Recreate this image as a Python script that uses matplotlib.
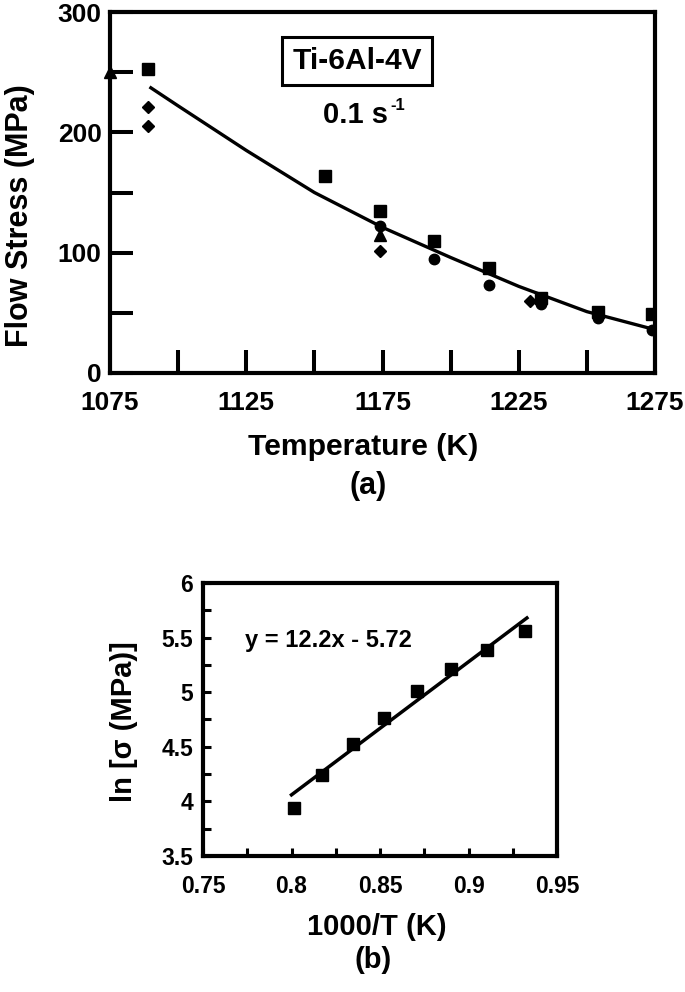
import matplotlib
matplotlib.use("Agg")
import matplotlib.pyplot as plt
from matplotlib.patches import Rectangle

plt.rcParams['font.family'] = ['Liberation Sans', 'DejaVu Sans']
plt.rcParams['font.weight'] = 'bold'

# ---- panel (a): flow stress vs temperature ----
T_sq   = [1089, 1154, 1174, 1194, 1214, 1233, 1254, 1274]
S_sq   = [253, 164, 135, 110, 87, 62, 51, 49]
T_dia  = [1089, 1089, 1174, 1229]
S_dia  = [221, 205, 101, 60]
T_cir  = [1174, 1194, 1214, 1233, 1254, 1274]
S_cir  = [122, 95, 73, 57, 46, 36]
T_tri  = [1075, 1174]
S_tri  = [250, 115]
T_fit  = [1090, 1100, 1125, 1150, 1175, 1200, 1225, 1250, 1275]
S_fit  = [237, 222, 185, 150, 121, 96, 72, 51, 36]

# ---- panel (b): ln(sigma) vs 1000/T ----
inv_T    = [0.8014, 0.8174, 0.8349, 0.8524, 0.8707, 0.8901, 0.9103, 0.9319]
ln_sigma = [3.94, 4.24, 4.53, 4.76, 5.01, 5.21, 5.39, 5.56]
fit_x    = [0.80, 0.933]
fit_y    = [4.06, 5.68]

W, H = 685, 992
def fx(px): return px / W
def fy(py): return 1 - py / H

fig = plt.figure(figsize=(W/100, H/100), dpi=100)

ax1 = fig.add_axes([fx(110), fy(373), fx(655) - fx(110), fy(12) - fy(373)])
ax1.plot(T_fit, S_fit, color="black", linewidth=2.4, zorder=2)
ax1.plot(T_sq, S_sq, linestyle="none", marker="s", markersize=9, color="black", zorder=3)
ax1.plot(T_dia, S_dia, linestyle="none", marker="D", markersize=6.5, color="black", zorder=3)
ax1.plot(T_cir, S_cir, linestyle="none", marker="o", markersize=7.5, color="black", zorder=3)
ax1.plot(T_tri, S_tri, linestyle="none", marker="^", markersize=8, color="black", zorder=3, clip_on=False)
ax1.set_xlim(1075, 1275)
ax1.set_ylim(0, 300)
ax1.set_xticks([1075, 1125, 1175, 1225, 1275])
ax1.set_xticks([1100, 1150, 1200, 1250], minor=True)
ax1.set_yticks([0, 100, 200, 300])
ax1.set_yticks([50, 150, 250], minor=True)
ax1.tick_params(axis="both", which="both", direction="in", length=16.5, width=2.9, labelsize=19)
ax1.tick_params(axis="x", which="major", pad=13)
ax1.tick_params(axis="y", which="major", pad=6)
for s in ax1.spines.values():
    s.set_linewidth(3)

fig.text(fx(20), fy(216), "Flow Stress (MPa)", rotation=90, ha="center", va="center", fontsize=22)
fig.text(fx(363), fy(447), "Temperature (K)", ha="center", va="center", fontsize=21.7)
fig.text(fx(368), fy(486), "(a)", ha="center", va="center", fontsize=22)

fig.patches.append(Rectangle((fx(282), fy(85)), fx(432) - fx(282), fy(37) - fy(85),
                             transform=fig.transFigure, fill=False, edgecolor="black", linewidth=2.2))
fig.text(fx(357), fy(61), "Ti-6Al-4V", ha="center", va="center", fontsize=21.5)
fig.text(fx(323), fy(123), "0.1 s", ha="left", va="baseline", fontsize=21)
fig.text(fx(390), fy(110), "-1", ha="left", va="baseline", fontsize=12)

ax2 = fig.add_axes([fx(203), fy(856), fx(557) - fx(203), fy(583) - fy(856)])
ax2.plot(fit_x, fit_y, color="black", linewidth=2.5, zorder=2)
ax2.plot(inv_T, ln_sigma, linestyle="none", marker="s", markersize=8.4, color="black", zorder=3)
ax2.set_xlim(0.75, 0.95)
ax2.set_ylim(3.5, 6)
ax2.set_xticks([0.75, 0.8, 0.85, 0.9, 0.95])
ax2.set_xticklabels(["0.75", "0.8", "0.85", "0.9", "0.95"])
ax2.set_xticks([0.775, 0.825, 0.875, 0.925], minor=True)
ax2.set_yticks([3.5, 4, 4.5, 5, 5.5, 6])
ax2.set_yticklabels(["3.5", "4", "4.5", "5", "5.5", "6"])
ax2.set_yticks([3.75, 4.25, 4.75, 5.25, 5.75], minor=True)
ax2.tick_params(axis="both", which="both", direction="in", length=5.8, width=2.2, labelsize=16.5)
ax2.tick_params(axis="x", which="major", pad=14)
ax2.tick_params(axis="y", which="major", pad=7)
for s in ax2.spines.values():
    s.set_linewidth(3)

fig.text(fx(328), fy(640), "y = 12.2x - 5.72", ha="center", va="center", fontsize=17)
fig.text(fx(124), fy(722), "ln [σ (MPa)]", rotation=90, ha="center", va="center", fontsize=21)
fig.text(fx(377), fy(927), "1000/T (K)", ha="center", va="center", fontsize=21)
fig.text(fx(373), fy(960), "(b)", ha="center", va="center", fontsize=21)

fig.savefig("out.png", dpi=100)
